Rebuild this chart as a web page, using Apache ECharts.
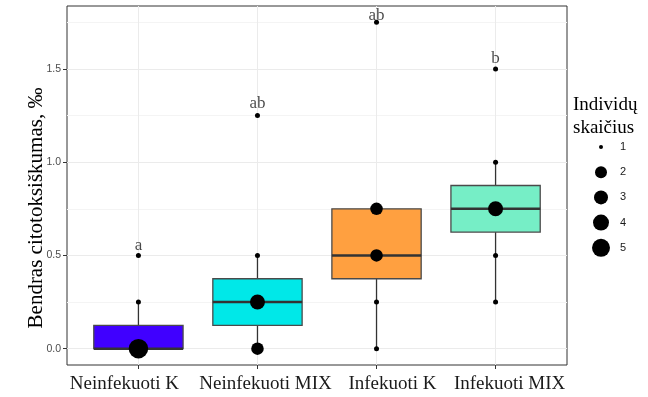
<!DOCTYPE html>
<html>
<head>
<meta charset="utf-8">
<script src="https://cdn.jsdelivr.net/npm/echarts@6/dist/echarts.min.js"></script>
<style>html,body{margin:0;padding:0;background:#fff;}#c{width:648px;height:397px;}</style>
</head>
<body>
<div id="c"></div>
<script>
// ---- data ----
var categories = ['Neinfekuoti K', 'Neinfekuoti MIX', 'Infekuoti K', 'Infekuoti MIX'];
var boxColors = ['#4000FF', '#00E8E8', '#FFA040', '#76EEC6'];
// box statistics per group: lower whisker, Q1, median, Q3, upper whisker
var whiskLow = [0, 0, 0, 0.25];
var q1 = [0, 0.125, 0.375, 0.625];
var median = [0, 0.25, 0.5, 0.75];
var q3 = [0.125, 0.375, 0.75, 0.875];
var whiskHigh = [0.25, 0.5, 0.75, 1.0];
// observed values and counts per group
var pointGroup = [1, 1, 1, 2, 2, 2, 2, 3, 3, 3, 3, 3, 4, 4, 4, 4, 4];
var pointValue = [0, 0.25, 0.5, 0, 0.25, 0.5, 1.25, 0, 0.25, 0.5, 0.75, 1.75, 0.25, 0.5, 0.75, 1.0, 1.5];
var pointCount = [5, 1, 1, 2, 3, 1, 1, 1, 1, 2, 2, 1, 1, 1, 3, 1, 1];
// significance letters (placed at their own height on the value scale)
var letters = ['a', 'ab', 'ab', 'b'];
var letterValue = [0.555, 1.315, 1.785, 1.555];
// axis ticks
var xTicks = [1, 2, 3, 4];
var yMajor = [0, 0.5, 1.0, 1.5];
var yMinor = [0.25, 0.75, 1.25, 1.75];
var legendCounts = [1, 2, 3, 4, 5];
var yTitle = 'Bendras citotoksiškumas, ‰';
var legendTitle = ['Individų', 'skaičius'];

// ---- chart ----
var sizeMap = {1: 5, 2: 12.5, 3: 15, 4: 17, 5: 19.5};
var legendSizeMap = {1: 4, 2: 12, 3: 14, 4: 16, 5: 18};
var labelShift = [-14, 8, 16, 14];
var serif = '"Liberation Serif", "DejaVu Serif", serif';
var sans = '"Liberation Sans", Arial, sans-serif';

var boxData = categories.map(function (c, i) {
  return [i + 1, whiskLow[i], q1[i], median[i], q3[i], whiskHigh[i]];
});
var pointData = pointValue.map(function (v, i) { return [pointGroup[i], v, pointCount[i]]; });
var letterData = letters.map(function (l, i) { return {value: [i + 1, letterValue[i]], name: l}; });

var rich = {};
labelShift.forEach(function (s, i) {
  rich['l' + i] = {
    fontFamily: serif, fontSize: 19, color: '#1a1a1a',
    padding: s < 0 ? [0, -2 * s, 0, 0] : [0, 0, 0, 2 * s]
  };
});

var chart = echarts.init(document.getElementById('c'), null, {renderer: 'canvas'});

var gfx = [
  {type: 'text', left: 573, top: 96, style: {text: legendTitle[0], font: '19px ' + serif, fill: '#000'}},
  {type: 'text', left: 573, top: 119, style: {text: legendTitle[1], font: '19px ' + serif, fill: '#000'}}
];
legendCounts.forEach(function (n, i) {
  var cy = 147 + i * 25.2;
  gfx.push({type: 'circle', shape: {cx: 601, cy: cy, r: legendSizeMap[n] / 2}, style: {fill: '#000'}});
  gfx.push({type: 'text', x: 620, y: cy, style: {text: String(n), font: '11px ' + sans, fill: '#1a1a1a', textVerticalAlign: 'middle'}});
});
gfx.push({
  type: 'text', x: 36, y: 208, rotation: Math.PI / 2,
  style: {text: yTitle, font: '21px ' + serif, fill: '#000', textAlign: 'center', textVerticalAlign: 'middle'}
});

chart.setOption({
  animation: false,
  backgroundColor: '#fff',
  grid: {left: 67, right: 81, top: 6, bottom: 32, show: true, borderColor: '#333', borderWidth: 1, backgroundColor: 'transparent'},
  xAxis: {
    type: 'value', min: 0.4, max: 4.6,
    axisLine: {show: false, onZero: false},
    axisTick: {show: true, customValues: xTicks, length: 4, lineStyle: {color: '#333'}},
    axisLabel: {customValues: xTicks,
      formatter: function (v) { var k = Math.round(v) - 1; return '{l' + k + '|' + categories[k] + '}'; },
      rich: rich, margin: 10},
    splitLine: {show: true, lineStyle: {color: '#ebebeb', width: 1}}
  },
  yAxis: [{
    type: 'value', min: -0.0875, max: 1.8375,
    axisLine: {show: false, onZero: false},
    axisTick: {show: true, customValues: yMajor, length: 4, lineStyle: {color: '#333'}},
    axisLabel: {customValues: yMajor, formatter: function (v) { return v.toFixed(1); }, color: '#4d4d4d', fontFamily: sans, fontSize: 10.5, margin: 6},
    splitLine: {show: true, lineStyle: {color: '#ebebeb', width: 1.1}}
  }, {
    type: 'value', min: -0.0875, max: 1.8375, position: 'left',
    axisLine: {show: false, onZero: false},
    axisTick: {show: false, customValues: yMinor},
    axisLabel: {show: false, customValues: yMinor},
    splitLine: {show: true, lineStyle: {color: '#f4f4f4', width: 1}}
  }],
  graphic: gfx,
  series: [{
    type: 'custom',
    yAxisIndex: 0,
    data: boxData,
    z: 2,
    renderItem: function (params, api) {
      var x = api.value(0);
      var i = params.dataIndex;
      var half = api.size([0.75, 0])[0] / 2;
      var pLow = api.coord([x, api.value(1)]);
      var pQ1 = api.coord([x, api.value(2)]);
      var pMed = api.coord([x, api.value(3)]);
      var pQ3 = api.coord([x, api.value(4)]);
      var pHigh = api.coord([x, api.value(5)]);
      var lineStyle = {stroke: '#333', lineWidth: 1.3};
      return {
        type: 'group',
        children: [
          {type: 'line', shape: {x1: pLow[0], y1: pLow[1], x2: pQ1[0], y2: pQ1[1]}, style: lineStyle},
          {type: 'line', shape: {x1: pQ3[0], y1: pQ3[1], x2: pHigh[0], y2: pHigh[1]}, style: lineStyle},
          {type: 'rect', shape: {x: pQ1[0] - half, y: pQ3[1], width: half * 2, height: pQ1[1] - pQ3[1]},
            style: {fill: boxColors[i], stroke: '#4a4a4a', lineWidth: 1.3}},
          {type: 'line', shape: {x1: pMed[0] - half, y1: pMed[1], x2: pMed[0] + half, y2: pMed[1]},
            style: {stroke: '#333', lineWidth: 2.6}}
        ]
      };
    }
  }, {
    type: 'scatter',
    z: 4,
    data: letterData,
    symbolSize: 1,
    itemStyle: {color: 'rgba(0,0,0,0)'},
    label: {show: true, position: 'inside', formatter: function (p) { return p.name; },
      fontFamily: serif, fontSize: 17, color: '#1a1a1a'}
  }, {
    type: 'scatter',
    z: 3,
    data: pointData,
    symbol: 'circle',
    symbolSize: function (v) { return sizeMap[v[2]]; },
    itemStyle: {color: '#000', opacity: 1}
  }]
});
</script>
</body>
</html>
